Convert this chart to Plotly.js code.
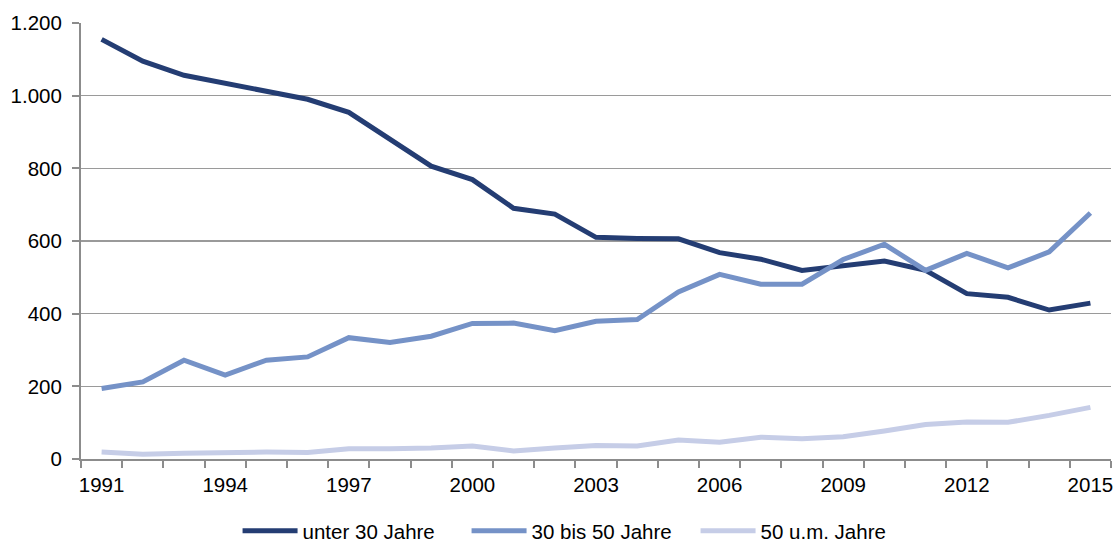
<!DOCTYPE html>
<html>
<head>
<meta charset="utf-8">
<script src="https://cdn.plot.ly/plotly-3.0.1.min.js"></script>
<style>
  html, body { margin: 0; padding: 0; background: #fff; }
  #chart { width: 1117px; height: 543px; }
</style>
</head>
<body>
<div id="chart"></div>
<script>
var years = [1991, 1992, 1993, 1994, 1995, 1996, 1997, 1998, 1999, 2000, 2001, 2002, 2003,
             2004, 2005, 2006, 2007, 2008, 2009, 2010, 2011, 2012, 2013, 2014, 2015];
var unter30 = [1155, 1095, 1056, 1034, 1013, 990, 954, 878, 806, 769, 690, 674, 610,
               607, 606, 568, 550, 519, 533, 545, 519, 455, 445, 410, 429];
var von30bis50 = [194, 212, 272, 231, 272, 281, 334, 321, 338, 373, 374, 353, 379,
                  384, 460, 508, 481, 481, 549, 591, 519, 566, 526, 570, 677];
var ab50 = [19, 13, 16, 19, 19, 18, 28, 28, 30, 36, 22, 30, 37,
            36, 52, 46, 60, 56, 61, 77, 95, 102, 101, 120, 142];
var tickYears = [1991, 1994, 1997, 2000, 2003, 2006, 2009, 2012, 2015];

var names = ['unter 30 Jahre', '30 bis 50 Jahre', '50 u.m. Jahre'];
var colors = ['#243d73', '#7592c7', '#c6cde7'];
var series = [unter30, von30bis50, ab50];

var data = [];
for (var i = 0; i < series.length; i++) {
  data.push({
    x: years,
    y: series[i],
    type: 'scatter',
    mode: 'lines',
    name: names[i],
    line: { color: colors[i], width: 5 },
    hoverinfo: 'x+y+name'
  });
}

var layout = {
  width: 1117,
  height: 543,
  separators: ',.',
  margin: { l: 81, r: 6, t: 23, b: 84, autoexpand: false },
  paper_bgcolor: '#ffffff',
  plot_bgcolor: '#ffffff',
  font: { family: 'Liberation Sans, Arial, sans-serif', size: 20.5, color: '#000' },
  showlegend: true,
  legend: {
    orientation: 'h',
    x: 0.152,
    xanchor: 'left',
    y: -0.165,
    yanchor: 'middle',
    font: { size: 20.5 },
    itemwidth: 55,
    entrywidth: 159,
    entrywidthmode: 'pixels'
  },
  xaxis: {
    range: [1990.5, 2015.5],
    tickmode: 'array',
    tickvals: tickYears,
    ticktext: tickYears.map(String),
    ticks: '',
    ticklabelstandoff: 6,
    showgrid: false,
    zeroline: false,
    showline: true,
    linecolor: '#8c8c8c',
    linewidth: 2,
    minor: {
      tickmode: 'linear',
      tick0: 1990.5,
      dtick: 1,
      ticks: 'outside',
      ticklen: 7,
      tickwidth: 2,
      tickcolor: '#8c8c8c',
      showgrid: false
    }
  },
  yaxis: {
    range: [0, 1200],
    dtick: 200,
    tickformat: ',d',
    ticks: 'outside',
    ticklen: 7,
    tickwidth: 2,
    tickcolor: '#8c8c8c',
    ticklabelstandoff: 6,
    showgrid: true,
    gridcolor: '#9a9a9a',
    gridwidth: 1.5,
    zeroline: false,
    showline: true,
    linecolor: '#8c8c8c',
    linewidth: 2
  }
};

Plotly.newPlot('chart', data, layout, { displayModeBar: false, staticPlot: true });
</script>
</body>
</html>
